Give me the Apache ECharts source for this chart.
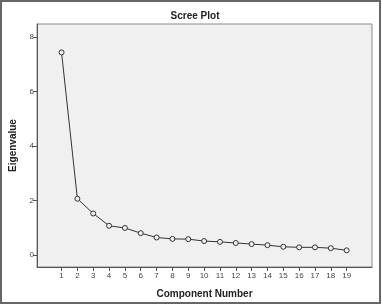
<!DOCTYPE html>
<html><head><meta charset="utf-8">
<script src="https://cdn.jsdelivr.net/npm/echarts@6/dist/echarts.min.js"></script>
<style>html,body{margin:0;padding:0;background:#fff}#c{width:382px;height:305px}</style>
</head><body><div id="c"></div>
<script>
const components = [1,2,3,4,5,6,7,8,9,10,11,12,13,14,15,16,17,18,19];
const eigenvalues = [7.43,2.07,1.53,1.08,1.00,0.81,0.65,0.60,0.59,0.52,0.49,0.45,0.41,0.37,0.31,0.29,0.29,0.26,0.18];
const yTicks = [0,2,4,6,8];
const chart = echarts.init(document.getElementById('c'), null, {renderer:'canvas'});
const font = 'Liberation Sans, Arial, sans-serif';
chart.setOption({
  animation:false,
  backgroundColor:'#fff',
  title:{text:'Scree Plot',left:190,textAlign:'center',top:6,textStyle:{fontFamily:font,fontSize:10,fontWeight:'bold',color:'#222'}},
  graphic:[{type:'rect',shape:{x:1,y:1,width:379,height:302},style:{fill:'none',stroke:'#666',lineWidth:2},silent:true}],
  grid:{left:34,top:24,right:10,bottom:38,show:true,backgroundColor:'#f0f0f0',borderColor:'#8a8a8a',borderWidth:1},
  xAxis:{type:'value',min:-0.55,max:20.6,
    name:'Component Number',nameLocation:'middle',nameGap:22,
    nameTextStyle:{fontFamily:font,fontSize:10,fontWeight:'bold',color:'#222'},
    axisLine:{show:true,onZero:false,lineStyle:{color:'#555'}},
    axisTick:{show:true,length:4,customValues:components,lineStyle:{color:'#555'}},
    axisLabel:{customValues:components,fontFamily:font,fontSize:8,color:'#444',margin:5},
    splitLine:{show:false}},
  yAxis:{type:'value',min:-0.43,max:8.47,
    name:'Eigenvalue',nameLocation:'middle',nameGap:19,nameRotate:90,
    nameTextStyle:{fontFamily:font,fontSize:10,fontWeight:'bold',color:'#222'},
    axisLine:{show:true,onZero:false,lineStyle:{color:'#555'}},
    axisTick:{show:true,length:4,customValues:yTicks,lineStyle:{color:'#555'}},
    axisLabel:{customValues:yTicks,fontFamily:font,fontSize:8,color:'#444',margin:3},
    splitLine:{show:false}},
  series:[{type:'line',data:components.map((c,i)=>[c,eigenvalues[i]]),
    symbol:'circle',symbolSize:5,showSymbol:true,showAllSymbol:true,
    lineStyle:{color:'#333',width:1},
    itemStyle:{color:'#f0f0f0',borderColor:'#333',borderWidth:1}}]
});
</script></body></html>
